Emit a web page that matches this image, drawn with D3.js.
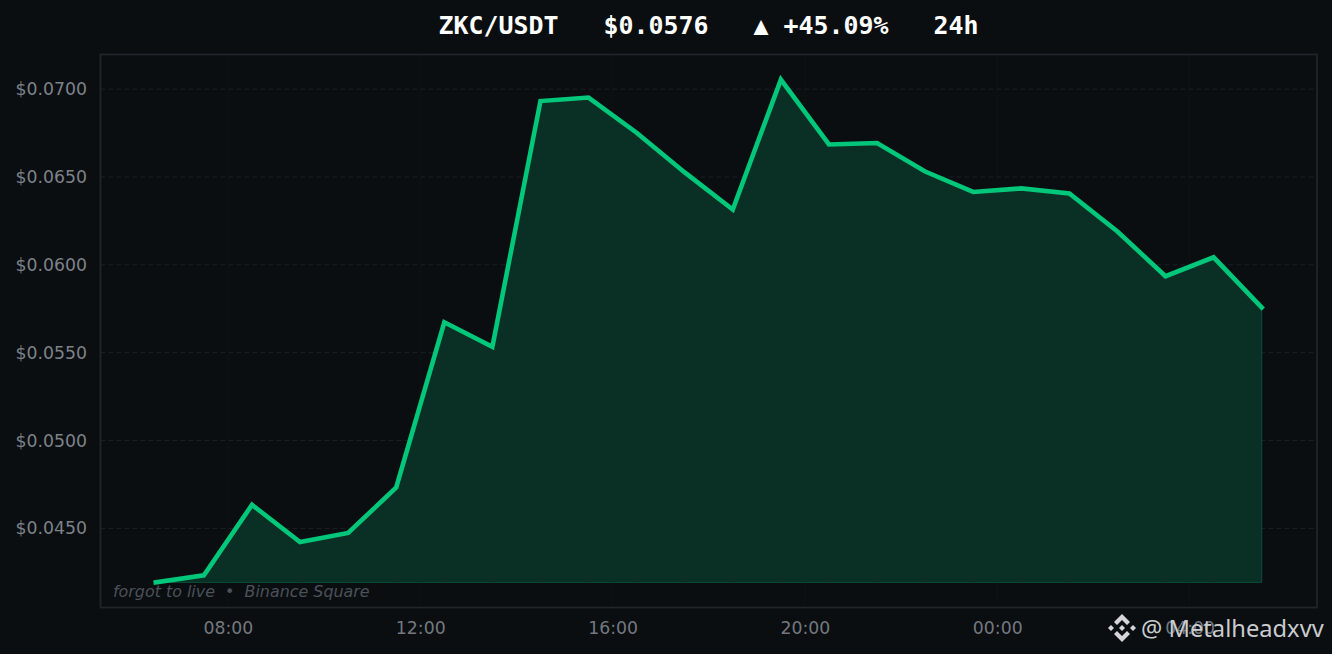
<!DOCTYPE html>
<html>
<head>
<meta charset="utf-8">
<script src="https://cdn.jsdelivr.net/npm/d3@7"></script>
<style>
html, body { margin: 0; padding: 0; background: #0a0e11; overflow: hidden; }
text { font-family: "DejaVu Sans", sans-serif; }
</style>
</head>
<body>
<svg id="chart" width="1332" height="654"></svg>
<script>
// half-hour stamps, hours counted from 00:00 of the first day
var hours = [6.5, 7.5, 8.5, 9.5, 10.5, 11.5, 12.5, 13.5, 14.5, 15.5, 16.5, 17.5, 18.5, 19.5, 20.5, 21.5, 22.5, 23.5, 24.5, 25.5, 26.5, 27.5, 28.5, 29.5];
var prices = [0.04193, 0.04233, 0.04634, 0.04423, 0.04474, 0.04733, 0.05673, 0.05534, 0.06932, 0.06952, 0.06752, 0.06526, 0.06315, 0.07054, 0.06685, 0.06693, 0.06531, 0.06415, 0.06435, 0.06406, 0.0619, 0.05935, 0.06043, 0.05757];
var xTickHours = [8, 12, 16, 20, 24, 28];
var xTickLabels = ["08:00", "12:00", "16:00", "20:00", "00:00", "04:00"];
var yTicks = [0.045, 0.05, 0.055, 0.06, 0.065, 0.07];
var titleText = "ZKC/USDT   $0.0576   \u25B2 +45.09%   24h";

var left = 100.5, right = 1317, top_ = 54.5, bottom = 607.5;
var svg = d3.select("#chart");

var xSpan = d3.max(hours) - d3.min(hours);
var ySpan = d3.max(prices) - d3.min(prices);

var x = d3.scaleLinear()
	.domain([d3.min(hours) - xSpan * 0.05, d3.max(hours) + xSpan * 0.05])
	.range([left, right]);

var y = d3.scaleLinear()
	.domain([d3.min(prices) - ySpan * 0.05, d3.max(prices) + ySpan * 0.05])
	.range([bottom, top_]);

var points = hours.map(function(h, i) { return [h, prices[i]]; });

// grid first so it sits under the fill
var xAxis = d3.axisBottom(x)
	.tickValues(xTickHours)
	.tickSize(0)
	.tickPadding(14)
	.tickFormat(function(d, i) { return xTickLabels[i]; });

var yAxis = d3.axisLeft(y)
	.tickValues(yTicks)
	.tickSize(0)
	.tickPadding(13.5)
	.tickFormat(function(d) { return "$" + d.toFixed(4); });

svg.append("g").selectAll("line")
	.data(xTickHours)
	.enter().append("line")
	.attr("x1", function(d) { return x(d); })
	.attr("x2", function(d) { return x(d); })
	.attr("y1", top_)
	.attr("y2", bottom)
	.attr("stroke", "#11171a")
	.attr("stroke-width", 1)
	.attr("stroke-dasharray", "2,2");

svg.append("g").selectAll("line")
	.data(yTicks)
	.enter().append("line")
	.attr("x1", left)
	.attr("x2", right)
	.attr("y1", function(d) { return y(d); })
	.attr("y2", function(d) { return y(d); })
	.attr("stroke", "#1b2125")
	.attr("stroke-width", 1)
	.attr("stroke-dasharray", "5,3");

var area = d3.area()
	.x(function(d) { return x(d[0]); })
	.y0(y(d3.min(prices)))
	.y1(function(d) { return y(d[1]); });

svg.append("path")
	.attr("d", area(points))
	.attr("fill", "#0a2f25")
	.attr("stroke", "#0b5039")
	.attr("stroke-width", 1);

var line = d3.line()
	.x(function(d) { return x(d[0]); })
	.y(function(d) { return y(d[1]); });

svg.append("path")
	.attr("d", line(points))
	.attr("fill", "none")
	.attr("stroke", "#00c77a")
	.attr("stroke-width", 4.6)
	.attr("stroke-linejoin", "miter")
	.attr("stroke-linecap", "square");

svg.append("rect")
	.attr("x", left)
	.attr("y", top_)
	.attr("width", right - left)
	.attr("height", bottom - top_)
	.attr("fill", "none")
	.attr("stroke", "#1f2529")
	.attr("stroke-width", 1.8);

var gx = svg.append("g")
	.attr("transform", "translate(0," + bottom + ")")
	.call(xAxis);
gx.select(".domain").remove();
gx.selectAll("text")
	.attr("fill", "#73787f")
	.style("font-size", "17.3px")
	.style("font-family", "'DejaVu Sans', sans-serif");

var gy = svg.append("g")
	.attr("transform", "translate(" + left + ",0)")
	.call(yAxis);
gy.select(".domain").remove();
gy.selectAll("text")
	.attr("fill", "#7d8289")
	.style("font-size", "17.3px")
	.style("font-family", "'DejaVu Sans', sans-serif");

svg.append("text")
	.attr("x", 708.5)
	.attr("y", 33.5)
	.attr("text-anchor", "middle")
	.attr("fill", "#ffffff")
	.attr("xml:space", "preserve")
	.style("white-space", "pre")
	.style("font-family", "'DejaVu Sans Mono', monospace")
	.style("font-weight", "bold")
	.style("font-size", "24.92px")
	.text(titleText);

svg.append("text")
	.attr("x", 113)
	.attr("y", 597)
	.attr("fill", "#4b5159")
	.attr("xml:space", "preserve")
	.style("white-space", "pre")
	.style("font-style", "italic")
	.style("font-size", "15.9px")
	.text("forgot to live  \u2022  Binance Square");

// binance mark + handle, sits over the last tick label
var mark = svg.append("g")
	.attr("transform", "translate(1122,628)")
	.attr("fill", "#d4d6d8");
mark.append("path").attr("d", "M0,-14 L8,-6 L5,-3 L0,-8 L-5,-3 L-8,-6 Z");
mark.append("path").attr("d", "M0,14 L8,6 L5,3 L0,8 L-5,3 L-8,6 Z");
mark.append("path").attr("d", "M0,-3 L3,0 L0,3 L-3,0 Z");
mark.append("path").attr("d", "M-11,-3 L-14,0 L-11,3 L-8,0 Z");
mark.append("path").attr("d", "M11,-3 L14,0 L11,3 L8,0 Z");

svg.append("text")
	.attr("x", 1141)
	.attr("y", 637)
	.attr("fill", "#c9ccce")
	.style("font-family", "'Noto Sans', sans-serif")
	.style("font-size", "23.7px")
	.text("@ Metalheadxvv");
</script>
</body>
</html>
